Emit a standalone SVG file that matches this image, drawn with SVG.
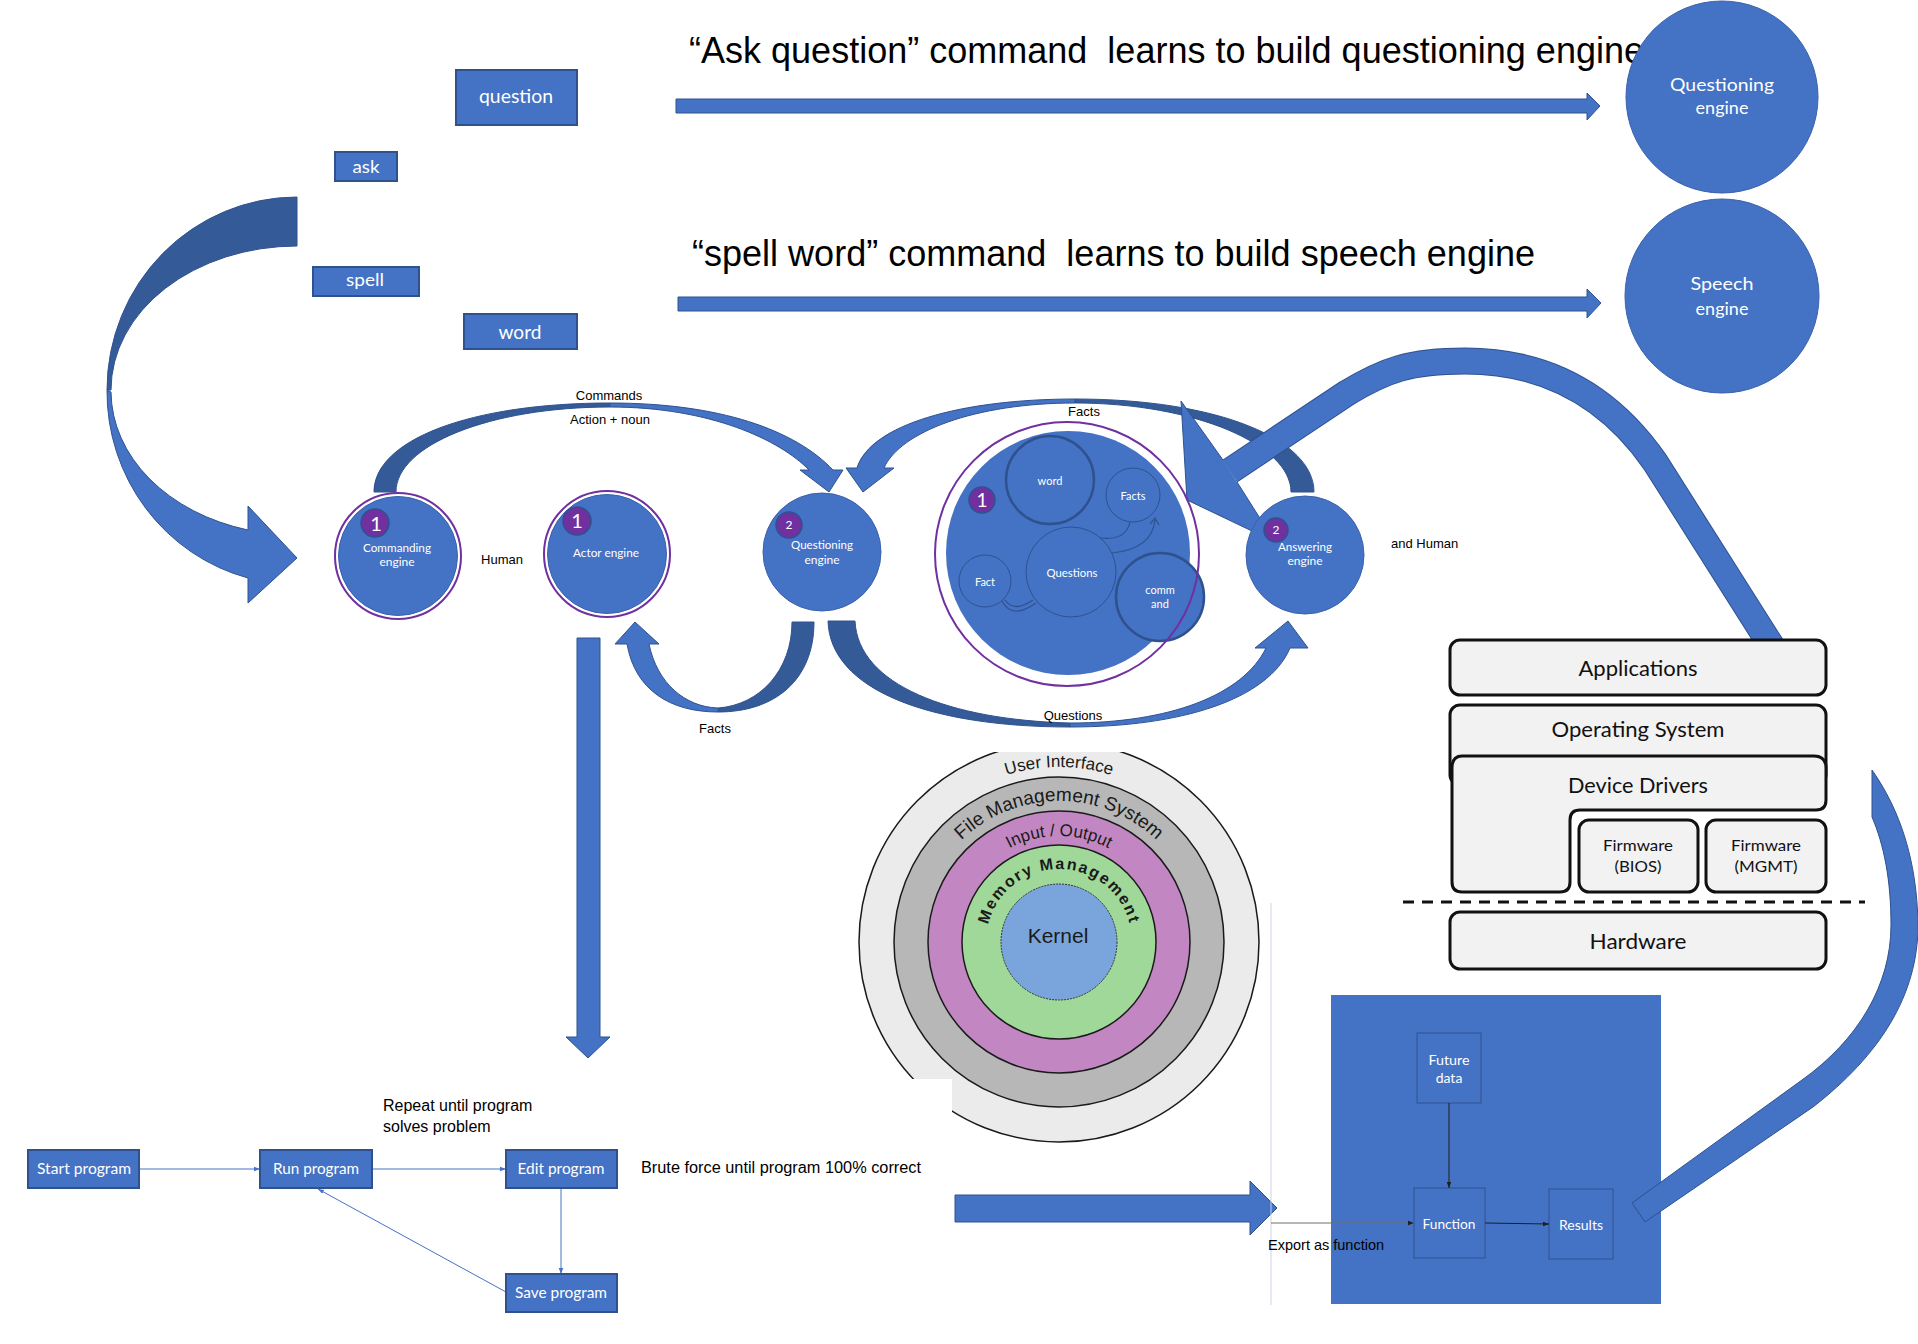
<svg xmlns="http://www.w3.org/2000/svg" width="1918" height="1344" viewBox="0 0 1918 1344">
<defs>
<style>
.box{fill:#4472C4;stroke:#2F528F;stroke-width:2}
.shape{fill:#4472C4;stroke:#2F528F;stroke-width:1}
.shade{fill:#345A98;stroke:#2F528F;stroke-width:1}
.lbl{font-family:Lato,"Noto Sans",sans-serif;fill:#fff;text-anchor:middle}
.cap{font-family:"Liberation Sans",Arial,sans-serif;fill:#000}
.badge{fill:#7030A0;stroke:#2F528F;stroke-width:1.5}
.ring{fill:none;stroke:#7030A0;stroke-width:2}
.node{fill:#4472C4;stroke:#3A62AC;stroke-width:1}
.sub{fill:#4472C4;stroke:#2F528F;stroke-width:1}
.subb{fill:#4472C4;stroke:#2F528F;stroke-width:2.5}
.os{fill:#F2F2F2;stroke:#111;stroke-width:3}
.ost{font-family:Lato,"Open Sans",sans-serif;fill:#111;text-anchor:middle}
.flow{stroke:#4472C4;stroke-width:1;fill:none}
.dk{stroke:#1F1F1F;stroke-width:1;fill:none}
.kring{stroke:#1A1A1A;stroke-width:1.5}
.kt{font-family:"Liberation Sans",Arial,sans-serif;fill:#1A1A1A}
</style>
<marker id="tip-blue" viewBox="0 0 8 8" refX="8" refY="4" markerWidth="6" markerHeight="6" markerUnits="userSpaceOnUse" orient="auto"><path d="M0,1 L8,4 L0,7 z" fill="#4472C4"/></marker>
<marker id="tip-dark" viewBox="0 0 8 8" refX="8" refY="4" markerWidth="6" markerHeight="6" markerUnits="userSpaceOnUse" orient="auto"><path d="M0,1 L8,4 L0,7 z" fill="#1F1F1F"/></marker>
<clipPath id="kclip"><path d="M840,752 H1280 V1160 H952 V1079 H840 Z"/></clipPath>
<path id="arc-ui" d="M884,942 A175,175 0 0 1 1234,942"/>
<path id="arc-fms" d="M918,942 A141,141 0 0 1 1200,942"/>
<path id="arc-io" d="M953,942 A106,106 0 0 1 1165,942"/>
<path id="arc-mm" d="M986,942 A73,73 0 0 1 1132,942"/>
</defs>

<!-- concentric OS layer rings -->
<g id="os-rings">
  <g clip-path="url(#kclip)">
    <circle cx="1059" cy="942" r="200" fill="#EBEBEB" class="kring"/>
    <circle cx="1059" cy="942" r="165" fill="#B7B7B7" class="kring"/>
    <circle cx="1059" cy="942" r="131" fill="#C287C2" class="kring"/>
    <circle cx="1059" cy="942" r="97" fill="#A0D89A" class="kring"/>
    <circle cx="1059" cy="942" r="58" fill="#7AA5DC" stroke="#333" stroke-width="1" stroke-dasharray="2 1"/>
  </g>
  <text class="kt" font-size="17"><textPath href="#arc-ui" startOffset="50%" text-anchor="middle">User Interface</textPath></text>
  <text class="kt" font-size="19"><textPath href="#arc-fms" startOffset="50%" text-anchor="middle">File Management System</textPath></text>
  <text class="kt" font-size="17"><textPath href="#arc-io" startOffset="50%" text-anchor="middle">Input / Output</textPath></text>
  <text class="kt" font-size="16" font-weight="bold" letter-spacing="1.8"><textPath href="#arc-mm" startOffset="50%" text-anchor="middle">Memory Management</textPath></text>
  <text class="kt" x="1058" y="943" font-size="21" text-anchor="middle">Kernel</text>
</g>

<!-- layered system stack -->
<g id="system-stack">
  <rect class="os" x="1450" y="705" width="376" height="80" rx="10"/>
  <path class="os" d="M1462,756 H1814 Q1826,756 1826,768 V800 Q1826,810 1816,810 H1580 Q1570,810 1570,820 V882 Q1570,892 1560,892 H1462 Q1452,892 1452,882 V768 Q1452,756 1462,756 Z"/>
  <rect class="os" x="1579" y="820" width="119" height="72" rx="10"/>
  <rect class="os" x="1706" y="820" width="120" height="72" rx="10"/>
  <line x1="1403" y1="902" x2="1865" y2="902" stroke="#111" stroke-width="3" stroke-dasharray="11 8"/>
  <rect class="os" x="1450" y="912" width="376" height="57" rx="10"/>
  <text class="ost" x="1638" y="737" font-size="21" textLength="173" lengthAdjust="spacingAndGlyphs">Operating System</text>
  <text class="ost" x="1638" y="793" font-size="21" textLength="140" lengthAdjust="spacingAndGlyphs">Device Drivers</text>
  <text class="ost" x="1638" y="851" font-size="16" textLength="70" lengthAdjust="spacingAndGlyphs">Firmware</text>
  <text class="ost" x="1638" y="872" font-size="16" textLength="47" lengthAdjust="spacingAndGlyphs">(BIOS)</text>
  <text class="ost" x="1766" y="851" font-size="16" textLength="70" lengthAdjust="spacingAndGlyphs">Firmware</text>
  <text class="ost" x="1766" y="872" font-size="16" textLength="63" lengthAdjust="spacingAndGlyphs">(MGMT)</text>
  <text class="ost" x="1638" y="949" font-size="21" textLength="97" lengthAdjust="spacingAndGlyphs">Hardware</text>
</g>

<!-- exported function block -->
<g id="function-block">
  <rect x="1331" y="995" width="330" height="309" fill="#4472C4"/>
  <rect class="sub" x="1417" y="1033" width="64" height="70"/>
  <rect class="sub" x="1414" y="1188" width="71" height="70"/>
  <rect class="sub" x="1549" y="1189" width="64" height="70"/>
  <text class="lbl" x="1449" y="1065" font-size="14" textLength="41" lengthAdjust="spacingAndGlyphs">Future</text>
  <text class="lbl" x="1449" y="1083" font-size="14">data</text>
  <text class="lbl" x="1449" y="1229" font-size="14" textLength="53" lengthAdjust="spacingAndGlyphs">Function</text>
  <text class="lbl" x="1581" y="1230" font-size="14" textLength="44" lengthAdjust="spacingAndGlyphs">Results</text>
</g>

<!-- connectors -->
<g id="connectors">
  <!-- curved arrow from command words into the commanding engine -->
  <path class="shade" d="M297,197 A190,193 0 0 0 107,390 L111,390 A186,144 0 0 1 297,246 Z"/>
  <path class="shape" d="M107,390 A190,193 0 0 0 248,578 L248,603 L297,558 L248,506 L248,530 A186,144 0 0 1 111,392 Z"/>

  <!-- straight arrows toward the two engines -->
  <polygon class="shape" points="676,99 1587,99 1587,93 1600,106 1587,120 1587,113 676,113"/>
  <polygon class="shape" points="678,297 1587,297 1587,289 1601,303 1587,318 1587,311 678,311"/>

  <!-- Commands arc -->
  <path class="shade" d="M374,492 C374,440 470,403 610,403 L610,407 C490,407 396,445 396,492 Z"/>
  <path class="shape" d="M610,403 C720,403 795,430 833,470 L843,470 L829,492 L800,470 L809,470 C780,440 710,407 610,407 Z"/>

  <!-- Facts arc (answering to questioning) -->
  <path class="shade" d="M1314,492 C1314,440 1220,399 1075,399 L1075,403 C1195,403 1291,445 1291,492 Z"/>
  <path class="shape" d="M1075,399 C960,399 870,425 857,468 L846,468 L863,492 L894,468 L884,468 C900,432 975,403 1075,403 Z"/>

  <!-- long arrow from the system stack back to the knowledge circle -->
  <path d="M1774,650 L1655,462 C1605,390 1540,361 1465,361 C1410,361 1385,370 1347,393 L1230,471" fill="none" stroke="#2F528F" stroke-width="27"/>
  <path d="M1774,650 L1655,462 C1605,390 1540,361 1465,361 C1410,361 1385,370 1347,393 L1230,471" fill="none" stroke="#4472C4" stroke-width="25"/>
  <polygon points="1223,460 1181,401 1187,500 1275,542 1237,482" fill="#4472C4"/>
  <polyline points="1223,460 1181,401 1187,500 1275,542 1237,482" fill="none" stroke="#2F528F" stroke-width="1"/>

  <!-- Facts arc (questioning to actor) -->
  <path class="shade" d="M814,622 C814,680 775,712 718,712 L718,708 C760,705 792,670 792,622 Z"/>
  <path class="shape" d="M718,712 C670,712 635,690 627,644 L615,644 L635,622 L659,644 L649,644 C657,683 685,707 718,708 Z"/>

  <!-- Questions arc (questioning to answering) -->
  <path class="shade" d="M828,621 C830,690 930,727 1070,727 L1070,723 C950,720 858,685 855,621 Z"/>
  <path class="shape" d="M1070,727 C1180,727 1268,700 1290,648 L1308,648 L1288,621 L1255,648 L1266,648 C1243,695 1170,723 1070,723 Z"/>

  <!-- actor engine down to the program loop -->
  <polygon class="shape" points="577,638 600,638 600,1037 610,1037 588,1058 566,1037 577,1037"/>

  <!-- brute force to export -->
  <polygon class="shape" points="955,1195 1250,1195 1250,1181 1277,1208 1250,1235 1250,1222 955,1222"/>

  <!-- results back up the right side -->
  <path class="shape" d="M1872,770 C1900,810 1917,860 1918,925 C1918,995 1880,1055 1813,1107 L1645,1222 L1632,1203 L1802,1080 C1858,1040 1891,985 1891,925 C1891,880 1884,845 1872,817 Z"/>

  <!-- program loop -->
  <line class="flow" x1="139" y1="1169" x2="260" y2="1169" marker-end="url(#tip-blue)"/>
  <line class="flow" x1="372" y1="1169" x2="506" y2="1169" marker-end="url(#tip-blue)"/>
  <line class="flow" x1="561" y1="1188" x2="561" y2="1274" marker-end="url(#tip-blue)"/>
  <line class="flow" x1="506" y1="1292" x2="318" y2="1189" marker-end="url(#tip-blue)"/>

  <!-- export divider and function flow -->
  <line x1="1271" y1="903" x2="1271" y2="1305" stroke="#C9D3E8" stroke-width="1"/>
  <line x1="1271" y1="1223" x2="1414" y2="1223" stroke="#6F6F6F" stroke-width="1" marker-end="url(#tip-dark)"/>
  <line class="dk" x1="1449" y1="1103" x2="1449" y2="1188" marker-end="url(#tip-dark)"/>
  <line class="dk" x1="1485" y1="1223" x2="1549" y2="1224" marker-end="url(#tip-dark)"/>
</g>

<!-- system stack top layer (covers the arrow tail) -->
<g id="applications">
  <rect class="os" x="1450" y="640" width="376" height="55" rx="10"/>
  <text class="ost" x="1638" y="676" font-size="21" textLength="119" lengthAdjust="spacingAndGlyphs">Applications</text>
</g>

<!-- command word boxes -->
<g id="box-question">
  <rect class="box" x="456" y="70" width="121" height="55"/>
  <text class="lbl" x="516" y="103" font-size="19" textLength="74" lengthAdjust="spacingAndGlyphs">question</text>
</g>
<g id="box-ask">
  <rect class="box" x="335" y="152" width="62" height="29"/>
  <text class="lbl" x="366" y="173" font-size="17" textLength="27" lengthAdjust="spacingAndGlyphs">ask</text>
</g>
<g id="box-spell">
  <rect class="box" x="313" y="267" width="106" height="29"/>
  <text class="lbl" x="365" y="286" font-size="18" textLength="38" lengthAdjust="spacingAndGlyphs">spell</text>
</g>
<g id="box-word">
  <rect class="box" x="464" y="314" width="113" height="35"/>
  <text class="lbl" x="520" y="339" font-size="19" textLength="43" lengthAdjust="spacingAndGlyphs">word</text>
</g>

<!-- headings -->
<g id="headings">
  <text class="cap" x="689" y="63" font-size="36" textLength="955" lengthAdjust="spacingAndGlyphs">“Ask question” command&#160; learns to build questioning engine</text>
  <text class="cap" x="692" y="266" font-size="36" textLength="843" lengthAdjust="spacingAndGlyphs">“spell word” command&#160; learns to build speech engine</text>
</g>

<!-- target engines -->
<g id="questioning-engine-target">
  <circle class="node" cx="1722" cy="97" r="96"/>
  <text class="lbl" x="1722" y="91" font-size="18" textLength="104" lengthAdjust="spacingAndGlyphs">Questioning</text>
  <text class="lbl" x="1722" y="114" font-size="18">engine</text>
</g>
<g id="speech-engine">
  <circle class="node" cx="1722" cy="296" r="97"/>
  <text class="lbl" x="1722" y="290" font-size="18" textLength="63" lengthAdjust="spacingAndGlyphs">Speech</text>
  <text class="lbl" x="1722" y="315" font-size="18">engine</text>
</g>

<!-- engine row -->
<g id="commanding-engine">
  <circle class="ring" cx="398" cy="556" r="63"/>
  <circle class="node" cx="398" cy="556" r="59.5"/>
  <circle class="badge" cx="375" cy="523" r="14"/>
  <text class="lbl" x="376" y="531" font-size="20">1</text>
  <text class="lbl" x="397" y="552" font-size="12" textLength="68" lengthAdjust="spacingAndGlyphs">Commanding</text>
  <text class="lbl" x="397" y="566" font-size="12">engine</text>
</g>
<g id="actor-engine">
  <circle class="ring" cx="607" cy="554" r="63"/>
  <circle class="node" cx="607" cy="554" r="59.5"/>
  <circle class="badge" cx="577" cy="521" r="14"/>
  <text class="lbl" x="577" y="528" font-size="20">1</text>
  <text class="lbl" x="606" y="557" font-size="12" textLength="66" lengthAdjust="spacingAndGlyphs">Actor engine</text>
</g>
<g id="questioning-engine">
  <circle class="node" cx="822" cy="552" r="59"/>
  <circle class="badge" cx="789" cy="525" r="13"/>
  <text class="lbl" x="789" y="529" font-size="12">2</text>
  <text class="lbl" x="822" y="549" font-size="12" textLength="62" lengthAdjust="spacingAndGlyphs">Questioning</text>
  <text class="lbl" x="822" y="564" font-size="12">engine</text>
</g>
<g id="knowledge-circle">
  <circle cx="1068" cy="553" r="122" fill="#4472C4"/>
  <circle class="subb" cx="1050" cy="480" r="44"/>
  <circle class="sub" cx="1133" cy="495" r="27"/>
  <circle class="sub" cx="1071" cy="572" r="45"/>
  <circle class="sub" cx="985" cy="581" r="26"/>
  <path d="M1130,522 Q1126,541 1100,538 M1155,520 Q1152,549 1112,553 M1150,524 L1155,518 L1159,525" fill="none" stroke="#2F528F" stroke-width="1.2"/>
  <path d="M1002,601 Q1012,620 1036,603 M1005,600 Q1014,613 1033,600" fill="none" stroke="#2F528F" stroke-width="1.2"/>
  <circle class="subb" cx="1160" cy="597" r="44"/>
  <circle class="ring" cx="1067" cy="554" r="132"/>
  <circle class="badge" cx="982" cy="500" r="13"/>
  <text class="lbl" x="982" y="507" font-size="19">1</text>
  <text class="lbl" x="1050" y="485" font-size="11">word</text>
  <text class="lbl" x="1133" y="500" font-size="11">Facts</text>
  <text class="lbl" x="1072" y="577" font-size="11" textLength="51" lengthAdjust="spacingAndGlyphs">Questions</text>
  <text class="lbl" x="985" y="586" font-size="11">Fact</text>
  <text class="lbl" x="1160" y="594" font-size="11">comm</text>
  <text class="lbl" x="1160" y="608" font-size="11">and</text>
</g>
<g id="answering-engine">
  <circle class="node" cx="1305" cy="555" r="59"/>
  <circle class="badge" cx="1276" cy="530" r="12"/>
  <text class="lbl" x="1276" y="534" font-size="12">2</text>
  <text class="lbl" x="1305" y="551" font-size="12" textLength="54" lengthAdjust="spacingAndGlyphs">Answering</text>
  <text class="lbl" x="1305" y="565" font-size="12">engine</text>
</g>

<!-- connector labels -->
<g id="labels">
  <text class="cap" x="609" y="400" font-size="13" text-anchor="middle">Commands</text>
  <text class="cap" x="610" y="424" font-size="13" text-anchor="middle">Action + noun</text>
  <text class="cap" x="502" y="564" font-size="13" text-anchor="middle">Human</text>
  <text class="cap" x="1084" y="416" font-size="13" text-anchor="middle">Facts</text>
  <text class="cap" x="1391" y="548" font-size="13">and Human</text>
  <text class="cap" x="715" y="733" font-size="13" text-anchor="middle">Facts</text>
  <text class="cap" x="1073" y="720" font-size="13" text-anchor="middle">Questions</text>
  <text class="cap" x="383" y="1111" font-size="16">Repeat until program</text>
  <text class="cap" x="383" y="1132" font-size="16">solves problem</text>
  <text class="cap" x="641" y="1173" font-size="16" textLength="280" lengthAdjust="spacingAndGlyphs">Brute force until program 100% correct</text>
  <text class="cap" x="1268" y="1250" font-size="14.5">Export as function</text>
</g>

<!-- program loop steps -->
<g id="start-program">
  <rect class="box" x="28" y="1150" width="111" height="38" stroke-width="1"/>
  <text class="lbl" x="84" y="1174" font-size="15" textLength="94" lengthAdjust="spacingAndGlyphs">Start program</text>
</g>
<g id="run-program">
  <rect class="box" x="260" y="1150" width="112" height="38" stroke-width="1"/>
  <text class="lbl" x="316" y="1174" font-size="15" textLength="86" lengthAdjust="spacingAndGlyphs">Run program</text>
</g>
<g id="edit-program">
  <rect class="box" x="506" y="1150" width="111" height="38" stroke-width="1"/>
  <text class="lbl" x="561" y="1174" font-size="15" textLength="87" lengthAdjust="spacingAndGlyphs">Edit program</text>
</g>
<g id="save-program">
  <rect class="box" x="506" y="1274" width="111" height="38" stroke-width="1"/>
  <text class="lbl" x="561" y="1298" font-size="15" textLength="92" lengthAdjust="spacingAndGlyphs">Save program</text>
</g>
</svg>
